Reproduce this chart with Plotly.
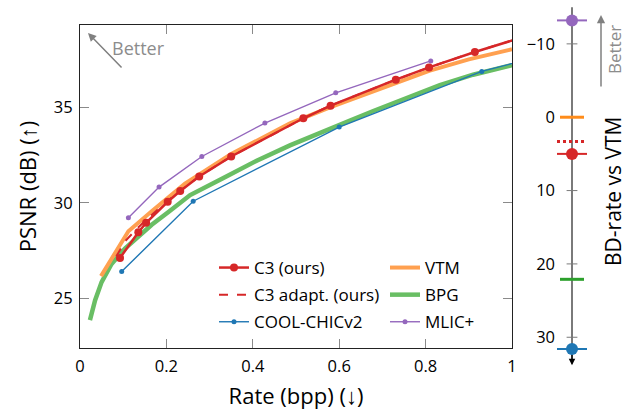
import plotly.graph_objects as go

# ---------------- data ----------------
c3_rate = [0.0926, 0.135, 0.153, 0.203, 0.232, 0.276, 0.350, 0.517, 0.580, 0.731, 0.808, 0.914, 1.05]
c3_psnr = [27.11, 28.45, 28.95, 30.05, 30.61, 31.37, 32.42, 34.42, 35.08, 36.44, 37.08, 37.89, 38.84]

c3a_rate = [0.084, 0.105, 0.130, 0.160, 0.203, 0.232, 0.276, 0.350, 0.517, 0.580, 0.731, 0.808, 0.914, 1.05]
c3a_psnr = [27.20, 28.00, 28.60, 29.25, 30.10, 30.62, 31.38, 32.42, 34.42, 35.08, 36.44, 37.08, 37.89, 38.84]

cool_rate = [0.0965, 0.262, 0.600, 0.930, 1.25]
cool_psnr = [26.40, 30.08, 33.96, 36.87, 38.75]

vtm_rate = [0.0486, 0.112, 0.166, 0.243, 0.350, 0.486, 0.580, 0.731, 0.808, 0.900, 1.0]
vtm_psnr = [26.16, 28.51, 29.55, 31.00, 32.55, 34.15, 35.00, 36.28, 36.90, 37.50, 38.03]

bpg_rate = [0.023, 0.035, 0.050, 0.073, 0.104, 0.135, 0.166, 0.204, 0.255, 0.332,
            0.409, 0.486, 0.563, 0.625, 0.679, 0.756, 0.833, 0.910, 1.0]
bpg_psnr = [23.86, 24.90, 25.85, 26.80, 27.60, 28.25, 28.85, 29.50, 30.40, 31.30,
            32.20, 33.00, 33.75, 34.30, 34.80, 35.50, 36.15, 36.70, 37.20]

mlic_rate = [0.112, 0.183, 0.282, 0.428, 0.592, 0.812]
mlic_psnr = [29.21, 30.82, 32.42, 34.17, 35.75, 37.42]

bd_names = ["MLIC+", "VTM", "C3 adapt. (ours)", "C3 (ours)", "BPG", "COOL-CHICv2"]
bd_values = [-13.2, 0.0, 3.3, 5.0, 22.1, 31.6]

x_ticks = [0, 0.2, 0.4, 0.6, 0.8, 1]
x_ticklabels = ["0", "0.2", "0.4", "0.6", "0.8", "1"]
y_ticks = [25, 30, 35]
bd_ticks = [-10, 0, 10, 20, 30]

# ---------------- style ----------------
RED = "#d62728"
ORANGE = "rgb(255,160,80)"
GREEN = "rgb(105,190,100)"
BLUE = "#1f77b4"
PURPLE = "#9467bd"
GRAY = "#808080"
FONT = "Open Sans"

# layout geometry (px): plot area 80..606 horizontally, 5..371 vertically
L, R, T, B = 80, 20, 5, 40
W, H = 626, 411
PW, PH = W - L - R, H - T - B


def px_x(p):
    return (p - L) / PW


def px_y(p):
    return (H - B - p) / PH


fig = go.Figure()

# main curves
fig.add_trace(go.Scatter(x=bpg_rate, y=bpg_psnr, mode="lines", name="BPG",
                         line=dict(color=GREEN, width=4.5), legend="legend2",
                         legendrank=2, legendgroup="bpg"))
fig.add_trace(go.Scatter(x=vtm_rate, y=vtm_psnr, mode="lines", name="VTM",
                         line=dict(color=ORANGE, width=4), legend="legend2",
                         legendrank=1, legendgroup="vtm"))
fig.add_trace(go.Scatter(x=cool_rate, y=cool_psnr, mode="lines+markers", name="COOL-CHICv2",
                         line=dict(color=BLUE, width=1.4), marker=dict(size=5, color=BLUE),
                         legendrank=3, legendgroup="cool"))
fig.add_trace(go.Scatter(x=mlic_rate, y=mlic_psnr, mode="lines+markers", name="MLIC+",
                         line=dict(color=PURPLE, width=1.4), marker=dict(size=5, color=PURPLE),
                         legend="legend2", legendrank=3, legendgroup="mlic"))
fig.add_trace(go.Scatter(x=c3a_rate, y=c3a_psnr, mode="lines", name="C3 adapt. (ours)",
                         line=dict(color=RED, width=2, dash="dash"),
                         legendrank=2, legendgroup="c3a"))
fig.add_trace(go.Scatter(x=c3_rate, y=c3_psnr, mode="lines+markers", name="C3 (ours)",
                         line=dict(color=RED, width=2.5), marker=dict(size=8, color=RED),
                         legendrank=1, legendgroup="c3"))

# BD-rate strip
bd_style = {
    "MLIC+": dict(color=PURPLE, half=0.75, marker=True, dash="solid", width=2),
    "VTM": dict(color="#ff8c1a", half=0.6, marker=False, dash="solid", width=3),
    "C3 adapt. (ours)": dict(color=RED, half=0.75, marker=False, dash="dot", width=3),
    "C3 (ours)": dict(color=RED, half=0.75, marker=True, dash="solid", width=2),
    "BPG": dict(color="#2ca02c", half=0.6, marker=False, dash="solid", width=3),
    "COOL-CHICv2": dict(color=BLUE, half=0.75, marker=True, dash="solid", width=2),
}

# axis line (gray) and crossing ticks
fig.add_shape(type="line", xref="x2", yref="y2", x0=0, x1=0, y0=-15.0, y1=33.2,
              line=dict(color="#7a7a7a", width=2), layer="below")
for t in bd_ticks:
    fig.add_shape(type="line", xref="x2", yref="y2", x0=-0.27, x1=0.27, y0=t, y1=t,
                  line=dict(color="#7a7a7a", width=1), layer="below")

for name, v in zip(bd_names, bd_values):
    s = bd_style[name]
    fig.add_trace(go.Scatter(x=[-s["half"], s["half"]], y=[v, v], mode="lines",
                             line=dict(color=s["color"], width=s["width"], dash=s["dash"]),
                             xaxis="x2", yaxis="y2", showlegend=False, hoverinfo="skip"))
    if s["marker"]:
        fig.add_trace(go.Scatter(x=[0], y=[v], mode="markers",
                                 marker=dict(size=12, color=s["color"]),
                                 xaxis="x2", yaxis="y2", showlegend=False, cliponaxis=False))

# arrowhead at bottom of BD axis
fig.add_annotation(x=0, y=33.8, ax=0, ay=32.2, xref="x2", yref="y2", axref="x2", ayref="y2",
                   text="", showarrow=True, arrowhead=2, arrowsize=1, arrowwidth=1.3,
                   arrowcolor="black")

# "Better" arrows and texts
fig.add_annotation(x=px_x(88), y=px_y(33), xref="paper", yref="paper", ax=35, ay=36,
                   text="", showarrow=True, arrowhead=2, arrowsize=1.1, arrowwidth=1.5,
                   arrowcolor=GRAY)
fig.add_annotation(x=px_x(110), y=px_y(48), xref="paper", yref="paper", text="Better",
                   showarrow=False, xanchor="left", yanchor="middle",
                   font=dict(family=FONT, size=18, color="#8c8c8c"))
fig.add_annotation(x=px_x(601), y=px_y(15), xref="paper", yref="paper", ax=0, ay=73,
                   text="", showarrow=True, arrowhead=2, arrowsize=1.1, arrowwidth=1.5,
                   arrowcolor=GRAY)
fig.add_annotation(x=px_x(614), y=px_y(50), xref="paper", yref="paper", text="Better",
                   showarrow=False, textangle=-90, xanchor="center", yanchor="middle",
                   font=dict(family=FONT, size=17, color="#8c8c8c"))
fig.add_annotation(x=px_x(613), y=px_y(192), xref="paper", yref="paper", text="BD-rate vs VTM",
                   showarrow=False, textangle=-90, xanchor="center", yanchor="middle",
                   font=dict(family=FONT, size=21, color="black"))

axis_common = dict(showline=True, linecolor="#222222", linewidth=1.2, mirror="ticks",
                   ticks="inside", ticklen=9, tickcolor="#8a8a8a", tickwidth=1,
                   showgrid=False, zeroline=False, automargin=False,
                   tickfont=dict(family=FONT, size=16.5, color="black"))

fig.update_layout(
    width=W, height=H,
    margin=dict(l=L, r=R, t=T, b=B, autoexpand=False),
    plot_bgcolor="white", paper_bgcolor="white",
    font=dict(family=FONT, color="black"),
    xaxis=dict(domain=[0, px_x(512)], range=[0, 1], tickvals=x_ticks, ticktext=x_ticklabels,
               ticklabelstandoff=3,
               title=dict(text="Rate (bpp) (↓)", font=dict(family=FONT, size=22), standoff=12),
               **axis_common),
    yaxis=dict(domain=[px_y(348), px_y(25)], range=[22.4, 39.3], tickvals=y_ticks,
               ticklabelstandoff=3,
               title=dict(text="PSNR (dB) (↑)", font=dict(family=FONT, size=22), standoff=11),
               **axis_common),
    xaxis2=dict(domain=[px_x(552), px_x(592)], range=[-1, 1], anchor="y2", visible=False),
    yaxis2=dict(domain=[0, 1], range=[34.6, -15.3], anchor="free", position=px_x(572),
                tickvals=bd_ticks, showline=False, showgrid=False, zeroline=False,
                ticks="", ticklabelstandoff=17, automargin=False,
                tickfont=dict(family=FONT, size=16.5, color="black")),
    legend=dict(x=px_x(214), y=px_y(250), xanchor="left", yanchor="top",
                bgcolor="rgba(0,0,0,0)", tracegroupgap=2, itemwidth=30,
                font=dict(family=FONT, size=17, color="black")),
    legend2=dict(x=px_x(385), y=px_y(250), xanchor="left", yanchor="top",
                 bgcolor="rgba(0,0,0,0)", tracegroupgap=2, itemwidth=30,
                 font=dict(family=FONT, size=17, color="black")),
    showlegend=True,
)

fig.write_html("out.html", config={"displayModeBar": False},
               post_script="document.body.style.margin='0';document.body.style.padding='0';")
